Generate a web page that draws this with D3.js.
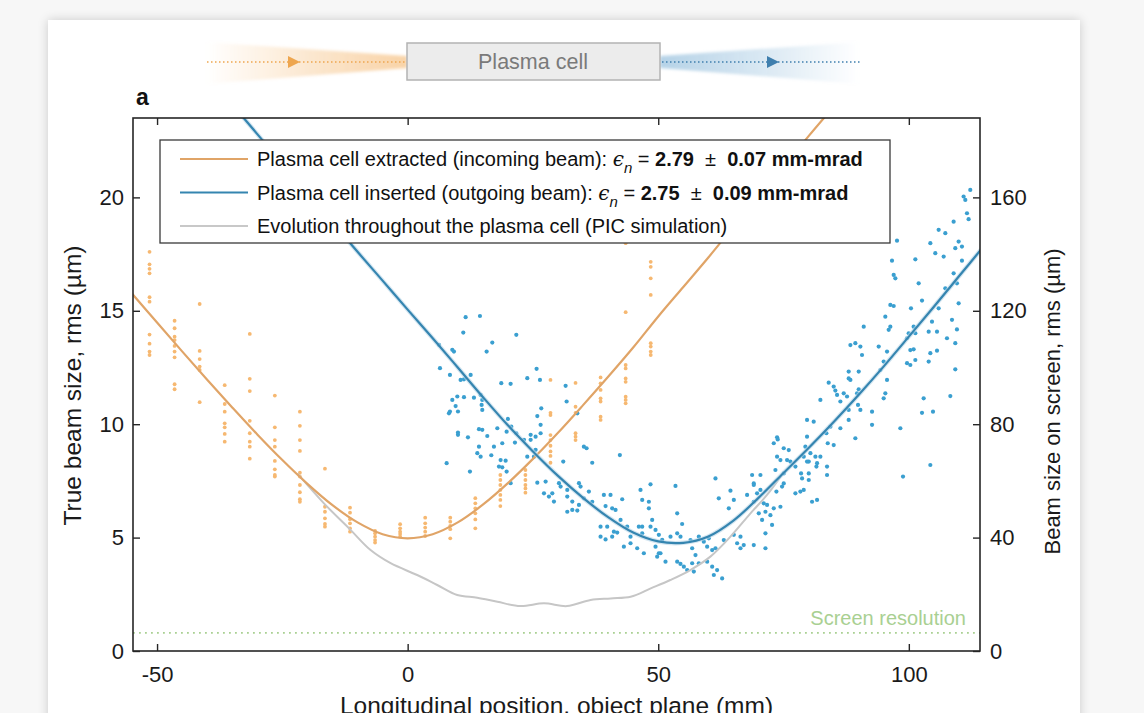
<!DOCTYPE html>
<html>
<head>
<meta charset="utf-8">
<script src="https://cdn.jsdelivr.net/npm/d3@7"></script>
<style>
  html, body { margin: 0; padding: 0; background: #f7f7f7; }
  body { width: 1144px; height: 713px; overflow: hidden; position: relative; }
  .card { position: absolute; left: 48px; top: 20px; width: 1032px; height: 720px; background: #fff;
          box-shadow: 0 0 10px rgba(0,0,0,0.18); }
  svg { position: absolute; left: 0; top: 0; }
  text { font-family: "Liberation Sans", Arial, Helvetica, sans-serif; }
</style>
</head>
<body>
<div class="card"></div>
<svg id="chart" width="1144" height="713"></svg>
<script>
// ---- data (z in mm, beam size in µm) ----
const xTicks = [-50, 0, 50, 100];
const yTicksLeft = [0, 5, 10, 15, 20];
const yTicksRight = [0, 40, 80, 120, 160];

// measured columns, incoming beam (plasma cell extracted)
const orangeColumnZ = [-51.5, -46.5, -41.5, -36.5, -31.5, -26.5, -21.5, -16.5, -11.5, -6.5, -1.5,
                       3.5, 8.5, 13.5, 18.5, 23.5, 28.5, 33.5, 38.5, 43.5, 48.5];
const orangeColumnValues = [
  [17.6, 17.05, 16.85, 16.65, 15.6, 15.4, 13.95, 13.55, 13.2, 13.05],
  [14.56, 14.23, 13.86, 13.71, 13.45, 13.2, 12.95, 11.76, 11.54],
  [15.3, 13.23, 12.87, 12.54, 12.39, 10.97],
  [11.72, 10.89, 10.55, 10.04, 9.86, 9.57, 9.23],
  [13.98, 12.0, 11.46, 10.15, 9.6, 9.23, 9.01, 8.48],
  [11.26, 9.86, 9.3, 9.01, 8.38, 8.01, 7.76, 7.69],
  [10.55, 9.93, 9.3, 8.82, 7.86, 7.69, 7.32, 7.0, 6.69, 6.58],
  [8.04, 6.36, 6.14, 5.85, 5.6, 5.48],
  [6.32, 6.1, 5.81, 5.63, 5.41, 5.26],
  [5.3, 5.19, 5.04, 4.89, 4.78],
  [5.59, 5.41, 5.26, 5.16, 5.04],
  [5.88, 5.63, 5.44, 5.26, 5.07],
  [5.88, 5.7, 5.52, 5.37, 4.97],
  [6.74, 6.51, 6.29, 6.07, 5.8, 5.41],
  [7.76, 7.54, 7.32, 7.1, 6.88, 6.66, 6.39],
  [7.98, 7.76, 7.54, 7.32, 7.17, 6.98],
  [11.95, 10.5, 10.4, 9.52, 9.3, 9.05, 8.8, 8.6, 8.3],
  [11.82, 10.77, 10.5, 9.6, 9.45, 9.3],
  [12.06, 11.8, 11.51, 11.14, 11.0, 10.33, 10.19],
  [17.98, 14.94, 12.61, 12.46, 12.02, 11.87, 11.21, 11.07, 10.92],
  [17.16, 16.94, 16.43, 15.7, 13.57, 13.42, 13.2, 13.05]
];

// measured shots, outgoing beam (plasma cell inserted): [z, size]
const bluePoints = [
  [11.57,14.72],[14.43,14.77],[11.1,14.04],[21.68,13.94],[16.89,13.6],[15.76,13.2],[6.25,13.5],[8.91,13.28],
  [9.24,13.2],[6.45,12.47],[8.44,12.17],[10.57,11.95],[11.24,11.98],[12.57,12.17],[18.68,11.81],[20.55,11.78],
  [23.87,12.03],[25.73,12.44],[26.4,11.95],[31.52,11.69],[9.91,11.22],[11.24,11.19],[8.91,11.07],[9.57,10.8],
  [8.44,10.56],[8.24,10.48],[10.04,10.56],[13.23,11.17],[14.56,11.29],[14.89,11.07],[14.76,10.85],[14.89,10.63],
  [31.72,11.0],[26.66,10.7],[25.87,10.36],[33.85,10.48],[20.01,10.23],[20.68,9.89],[17.89,9.82],[14.23,9.78],
  [14.89,9.75],[10.04,9.63],[10.04,9.53],[12.03,9.42],[15.89,9.48],[19.75,9.67],[21.68,9.6],[24.54,9.53],
  [25.53,9.45],[26.53,9.6],[26.53,9.97],[21.41,9.19],[23.21,9.31],[24.54,9.31],[18.88,9.16],[17.22,9.01],
  [14.23,9.01],[13.9,8.72],[14.56,8.57],[16.69,8.63],[18.55,8.42],[19.55,8.39],[18.22,8.13],[18.88,8.1],
  [19.75,7.91],[7.78,8.28],[12.43,7.91],[23.87,8.57],[25.2,8.57],[25.53,8.87],[31.05,8.35],[25.87,7.42],
  [27.53,7.47],[30.19,7.4],[30.52,7.25],[31.85,7.1],[34.18,7.4],[27.2,6.95],[28.86,6.95],[28.19,6.81],
  [29.19,6.59],[31.85,6.81],[31.85,6.14],[32.85,6.22],[33.85,6.19],[32.85,6.59],[34.18,6.44],[20.55,7.4],
  [42.34,8.64],[36.83,8.3],[35.16,9.01],[35.7,8.94],[34.5,7.25],[36.16,7.03],[35.16,6.73],[36.83,6.58],
  [39.15,6.88],[40.48,6.88],[42.81,6.69],[46.46,7.1],[48.46,7.35],[46.8,6.66],[48.13,6.58],[48.13,6.29],
  [53.44,7.28],[61.42,7.61],[62.08,6.73],[64.41,7.07],[64.08,6.29],[65.08,6.66],[39.49,6.39],[40.81,6.29],
  [41.48,6.22],[42.48,5.78],[38.49,5.48],[39.82,5.48],[41.15,5.26],[38.49,5.04],[39.49,4.92],[40.81,5.04],
  [41.81,5.22],[43.81,5.48],[44.47,5.04],[46.13,5.48],[46.8,5.48],[46.8,5.19],[48.46,5.48],[49.46,5.34],
  [50.12,5.12],[48.79,5.78],[53.78,6.07],[54.77,5.6],[53.78,5.19],[52.45,5.04],[50.79,4.9],[43.14,4.6],
  [44.47,4.75],[45.8,4.53],[47.13,4.31],[49.46,4.6],[50.45,4.31],[49.79,4.16],[51.45,3.94],[50.12,4.31],
  [53.78,3.94],[54.44,3.84],[55.11,3.72],[55.77,3.57],[56.77,3.87],[57.1,3.5],[58.1,3.87],[57.43,4.23],
  [56.77,4.53],[56.44,4.89],[58.1,5.04],[59.09,4.82],[60.09,4.97],[59.76,4.6],[60.76,4.45],[61.42,4.53],
  [63.08,4.89],[65.08,5.12],[66.41,5.04],[65.74,4.75],[66.41,4.53],[60.76,3.72],[61.09,3.35],[61.75,3.57],
  [62.75,3.2],[59.76,3.94],[54.44,5.04],
  [112.26,20.33],[110.93,20.04],[111.27,19.89],[111.6,19.3],[111.93,19.04],[105.95,18.57],[107.28,18.42],
  [108.94,18.93],[109.94,18.05],[110.6,17.83],[109.27,17.76],[104.29,17.98],[105.28,17.54],[106.95,17.39],
  [101.3,17.27],[110.6,17.21],[97.64,18.09],[96.64,17.21],[96.98,16.58],[97.31,16.43],[108.94,16.65],
  [107.28,15.99],[109.6,16.21],[101.96,16.21],[102.63,15.45],[105.95,15.11],[109.94,15.33],[100.43,15.11],
  [96.31,15.26],[96.98,15.21],[108.61,14.6],[109.6,14.18],[104.62,14.52],[105.62,14.08],[103.96,14.08],
  [107.61,13.79],[109.27,13.57],[100.96,14.3],[99.97,14.01],[99.64,13.79],[101.3,14.01],[91.0,14.3],
  [95.31,14.74],[96.31,14.3],[95.98,14.16],[88.34,13.49],[89.33,13.57],[90.33,13.42],[90.66,13.05],
  [93.99,13.42],[95.65,13.2],[105.62,13.24],[104.29,13.13],[103.96,12.76],[100.96,13.3],[100.3,13.27],
  [99.64,12.69],[100.3,12.61],[101.3,12.83],[94.98,12.76],[95.65,11.95],[88.0,12.32],[90.0,12.32],
  [88.34,11.95],[88.0,12.02],[90.0,11.54],[89.67,11.36],[94.32,12.39],[95.31,11.36],[94.98,11.14],
  [92.66,10.55],[92.66,9.97],[90.33,10.63],[89.86,10.85],[87.67,11.22],[88.0,10.63],[87.01,11.36],
  [86.34,11.0],[85.01,11.66],[85.34,11.48],[85.68,11.29],[84.01,11.83],[82.35,11.07],[81.02,10.11],
  [79.69,10.19],[84.35,9.89],[86.34,9.82],[88.0,10.19],[89.33,9.38],[85.01,9.08],[83.82,9.16],[83.55,9.6],
  [79.69,9.45],[79.36,9.01],[80.36,8.72],[79.03,8.57],[80.03,8.35],[81.36,8.57],[81.69,8.28],[82.35,8.57],
  [79.69,8.35],[81.56,8.13],[83.68,8.13],[83.68,7.76],[78.5,7.83],[78.7,7.61],[80.03,7.83],[80.03,7.54],
  [78.36,7.03],[79.03,7.1],[77.37,6.95],[81.69,6.66],[80.69,6.58],[73.71,9.42],[73.84,9.33],[73.05,9.16],
  [75.04,8.94],[73.71,8.57],[74.38,8.42],[75.71,8.42],[76.04,8.86],[76.37,8.35],[73.38,7.98],[75.04,7.83],
  [77.37,8.13],[75.04,7.39],[74.71,7.25],[73.58,7.03],[70.39,7.76],[68.73,7.76],[69.06,7.39],[69.06,7.32],
  [70.39,7.1],[67.73,6.88],[69.72,6.95],[69.06,6.58],[71.05,6.51],[71.72,6.44],[71.39,6.14],[73.05,6.29],
  [70.06,6.07],[72.38,5.99],[74.38,6.36],[70.72,5.78],[72.71,5.56],[71.39,5.19],[69.06,4.67],[71.39,4.53],
  [67.06,4.67],[104.29,8.2],[98.84,7.69],[98.31,9.82],[108.28,11.24],[102.63,10.5],[104.82,10.55],
  [102.96,11.14],[109.27,12.42]
];

// fitted envelopes, sampled every 5 mm
const orangeFitZ = [-55,-50,-45,-40,-35,-30,-25,-20,-15,-10,-5,0,5,10,15,20,25,30,35,40,45,50,55,60,65,70,75,80,85];
const orangeFitV = [15.76,14.48,13.21,11.96,10.74,9.55,8.42,7.37,6.43,5.67,5.15,4.97,5.15,5.67,6.45,7.4,
                    8.47,9.62,10.84,12.09,13.38,14.75,16.05,17.35,18.7,20.0,21.35,22.7,24.0];
const blueFitZ = [-35,-30,-25,-20,-15,-10,-5,0,5,10,15,20,25,30,35,40,45,50,55,60,65,70,75,80,85,90,95,100,105,110,115];
const blueFitV = [24.1,22.79,21.49,20.19,18.9,17.6,16.33,15.05,13.79,12.5,11.2,9.95,8.8,7.72,6.75,5.9,5.22,
                  4.83,4.77,5.05,5.75,6.75,7.85,8.95,10.1,11.3,12.55,13.86,15.18,16.52,17.86];

// PIC simulation through the plasma cell
const picZ = [-22.0,-16.7,-11.4,-7.4,-3.4,1.9,5.9,9.9,13.9,17.9,22.5,27.2,31.8,36.5,40.5,44.5,48.5,52.4,56.4,60.4,64.4,68.4,71.7,74.4];
const picV = [7.83,6.51,5.34,4.45,3.87,3.35,2.91,2.47,2.35,2.17,1.98,2.10,1.98,2.25,2.32,2.39,2.76,3.13,3.57,4.16,5.04,6.07,6.88,7.69];

const screenResolution = 0.8;   // µm
const rightAxisFactor = 8;      // screen size = 8 × object-plane size

const legendItems = [
  { color: "#e0a467", head: "Plasma cell extracted (incoming beam): ", value: "2.79", err: "0.07" },
  { color: "#3585b0", head: "Plasma cell inserted (outgoing beam): ", value: "2.75", err: "0.09" },
  { color: "#c8c8c8", head: "Evolution throughout the plasma cell (PIC simulation)" }
];

// ---- colours ----
const C = {
  orangeLine: "#e0a467", orangeDot: "#f6b871",
  blueLine: "#3585b0", blueDot: "#3a9fd0",
  gray: "#c6c6c6", green: "#a9d092", axis: "#262626"
};

// ---- layout ----
const plot = { left: 133, right: 980, top: 118, bottom: 651 };
const svg = d3.select("#chart");

const x = d3.scaleLinear().domain([-54.8, 114.2]).range([plot.left, plot.right]);
const y = d3.scaleLinear().domain([0, 23.5]).range([plot.bottom, plot.top]);
const yR = d3.scaleLinear().domain([0, 23.5 * rightAxisFactor]).range([plot.bottom, plot.top]);

// ---- beam schematic above the plot ----
const defs = svg.append("defs");
function fadeGrad(id, color, toRight) {
  const g = defs.append("linearGradient").attr("id", id)
    .attr("x1", toRight ? "0%" : "100%").attr("x2", toRight ? "100%" : "0%");
  g.append("stop").attr("offset", "0%").attr("stop-color", color).attr("stop-opacity", 0.75);
  g.append("stop").attr("offset", "55%").attr("stop-color", color).attr("stop-opacity", 0.35);
  g.append("stop").attr("offset", "100%").attr("stop-color", color).attr("stop-opacity", 0);
}
fadeGrad("gradIn", "#f6c489", false);
fadeGrad("gradOut", "#9cc3df", true);
defs.append("filter").attr("id", "soft").append("feGaussianBlur").attr("stdDeviation", 1.6);

const dia = svg.append("g");
const cy = 62;
dia.append("path").attr("d", `M205,${cy - 20} L407,${cy - 6} L407,${cy + 6} L205,${cy + 22} Z`)
  .attr("fill", "url(#gradIn)").attr("filter", "url(#soft)");
dia.append("path").attr("d", `M660,${cy - 6} L860,${cy - 20} L860,${cy + 22} L660,${cy + 6} Z`)
  .attr("fill", "url(#gradOut)").attr("filter", "url(#soft)");
dia.append("line").attr("x1", 207).attr("x2", 405).attr("y1", cy).attr("y2", cy)
  .attr("stroke", "#eea64f").attr("stroke-width", 1.5).attr("stroke-dasharray", "1.5,2.5");
dia.append("path").attr("d", `M288,${cy - 6} L300,${cy} L288,${cy + 6} Z`).attr("fill", "#eea64f");
dia.append("line").attr("x1", 662).attr("x2", 860).attr("y1", cy).attr("y2", cy)
  .attr("stroke", "#3f7fae").attr("stroke-width", 1.5).attr("stroke-dasharray", "1.5,2.5");
dia.append("path").attr("d", `M767,${cy - 6} L779,${cy} L767,${cy + 6} Z`).attr("fill", "#3f7fae");
dia.append("rect").attr("x", 407).attr("y", 43).attr("width", 253).attr("height", 37)
  .attr("fill", "#ececec").attr("stroke", "#b3b3b3").attr("stroke-width", 1.5);
dia.append("text").attr("x", 533).attr("y", cy + 7).attr("text-anchor", "middle")
  .attr("font-size", 21.5).attr("fill", "#7a7a7a").text("Plasma cell");

svg.append("text").attr("x", 136).attr("y", 105).attr("font-size", 23).attr("font-weight", "bold")
  .attr("fill", "#111").text("a");

// ---- plot area ----
defs.append("clipPath").attr("id", "clip").append("rect")
  .attr("x", plot.left).attr("y", plot.top)
  .attr("width", plot.right - plot.left).attr("height", plot.bottom - plot.top);
const area = svg.append("g").attr("clip-path", "url(#clip)");

// screen resolution
area.append("line").attr("x1", plot.left).attr("x2", plot.right)
  .attr("y1", y(screenResolution)).attr("y2", y(screenResolution))
  .attr("stroke", C.green).attr("stroke-width", 1.8).attr("stroke-dasharray", "1.8,4.2");
svg.append("text").attr("x", 966).attr("y", y(screenResolution) - 8).attr("text-anchor", "end")
  .attr("font-size", 20).attr("fill", C.green).text("Screen resolution");

// measured points
const orangeDots = orangeColumnZ.flatMap((z, i) => orangeColumnValues[i].map(v => [z, v]));
area.append("g").selectAll("circle").data(orangeDots).join("circle")
  .attr("cx", d => x(d[0])).attr("cy", d => y(d[1])).attr("r", 1.9).attr("fill", C.orangeDot);
area.append("g").selectAll("circle").data(bluePoints).join("circle")
  .attr("cx", d => x(d[0])).attr("cy", d => y(d[1])).attr("r", 2.1).attr("fill", C.blueDot);

// curves
const line = d3.line().x(d => x(d[0])).y(d => y(d[1])).curve(d3.curveCatmullRom.alpha(0.5));
area.append("path").datum(picZ.map((z, i) => [z, picV[i]])).attr("d", line)
  .attr("fill", "none").attr("stroke", C.gray).attr("stroke-width", 2);
area.append("path").datum(orangeFitZ.map((z, i) => [z, orangeFitV[i]])).attr("d", line)
  .attr("fill", "none").attr("stroke", C.orangeLine).attr("stroke-width", 2.2);
area.append("path").datum(blueFitZ.map((z, i) => [z, blueFitV[i]])).attr("d", line)
  .attr("fill", "none").attr("stroke", "#b9d6e8").attr("stroke-width", 4.5).attr("opacity", 0.6);
area.append("path").datum(blueFitZ.map((z, i) => [z, blueFitV[i]])).attr("d", line)
  .attr("fill", "none").attr("stroke", C.blueLine).attr("stroke-width", 2.2);

// ---- axes (box with inward ticks) ----
const tick = 7;
const fmt = d => d < 0 ? "-" + Math.abs(d) : String(d);
function styleAxis(g) {
  g.select(".domain").remove();
  g.selectAll(".tick line").attr("stroke", C.axis).attr("stroke-width", 1.4);
  g.selectAll(".tick text").attr("fill", "#1a1a1a").attr("font-size", 22)
    .attr("font-family", "'Liberation Sans', Arial, sans-serif");
}
svg.append("g").attr("transform", `translate(0,${plot.bottom})`)
  .call(d3.axisBottom(x).tickValues(xTicks).tickFormat(fmt).tickSizeInner(-tick).tickSizeOuter(0).tickPadding(15))
  .call(styleAxis);
svg.append("g").attr("transform", `translate(0,${plot.top})`)
  .call(d3.axisTop(x).tickValues(xTicks).tickFormat("").tickSizeInner(-tick).tickSizeOuter(0))
  .call(styleAxis);
svg.append("g").attr("transform", `translate(${plot.left},0)`)
  .call(d3.axisLeft(y).tickValues(yTicksLeft).tickSizeInner(-tick).tickSizeOuter(0).tickPadding(9))
  .call(styleAxis);
svg.append("g").attr("transform", `translate(${plot.right},0)`)
  .call(d3.axisRight(yR).tickValues(yTicksRight).tickSizeInner(-tick).tickSizeOuter(0).tickPadding(10))
  .call(styleAxis);

svg.append("rect").attr("x", plot.left).attr("y", plot.top)
  .attr("width", plot.right - plot.left).attr("height", plot.bottom - plot.top)
  .attr("fill", "none").attr("stroke", C.axis).attr("stroke-width", 1.6);

svg.append("text").attr("transform", `translate(81,${(plot.top + plot.bottom) / 2 + 1}) rotate(-90)`)
  .attr("text-anchor", "middle").attr("font-size", 24.5).attr("fill", "#1a1a1a")
  .text("True beam size, rms (µm)");
svg.append("text").attr("transform", `translate(1060,${(plot.top + plot.bottom) / 2 + 17}) rotate(-90)`)
  .attr("text-anchor", "middle").attr("font-size", 22).attr("fill", "#1a1a1a")
  .text("Beam size on screen, rms (µm)");
svg.append("text").attr("x", (plot.left + plot.right) / 2).attr("y", 714)
  .attr("text-anchor", "middle").attr("font-size", 24.5).attr("fill", "#1a1a1a")
  .text("Longitudinal position, object plane (mm)");

// ---- legend ----
const lg = svg.append("g").attr("transform", "translate(160,140)");
lg.append("rect").attr("width", 730).attr("height", 103).attr("fill", "#fff")
  .attr("stroke", "#3a3a3a").attr("stroke-width", 1.3);
legendItems.forEach((it, i) => {
  const ly = 19 + i * 33.5;
  lg.append("line").attr("x1", 20).attr("x2", 88).attr("y1", ly).attr("y2", ly)
    .attr("stroke", it.color).attr("stroke-width", 2.2);
  const t = lg.append("text").attr("x", 97).attr("y", ly + 7).attr("font-size", 20).attr("fill", "#111");
  t.append("tspan").text(it.head);
  if (it.value) {
    t.append("tspan").attr("font-family", "'DejaVu Serif', serif").attr("font-style", "italic").text("ϵ");
    t.append("tspan").attr("font-style", "italic").attr("font-size", 15).attr("dy", 7).text("n");
    t.append("tspan").attr("dy", -7).attr("xml:space", "preserve").text(" = ");
    t.append("tspan").attr("font-weight", "bold").text(it.value);
    t.append("tspan").attr("xml:space", "preserve").text("  ±  ");
    t.append("tspan").attr("font-weight", "bold").text(it.err + " mm-mrad");
  }
});
</script>
</body>
</html>
